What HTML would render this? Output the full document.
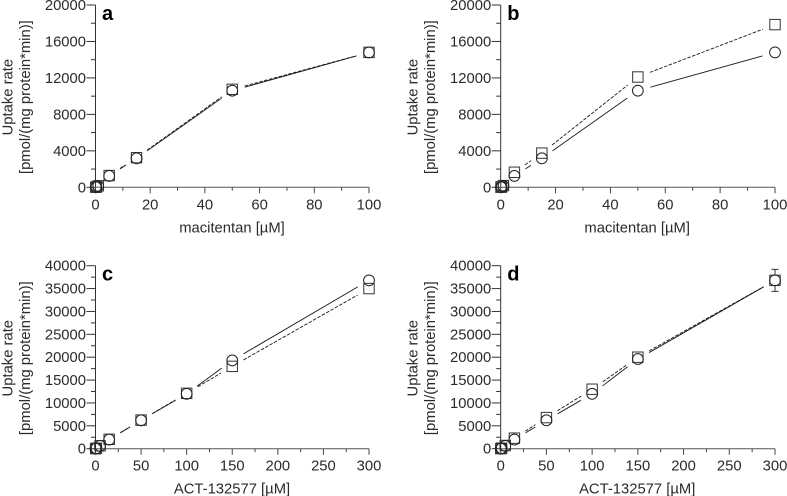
<!DOCTYPE html>
<html lang="en">
<head>
<meta charset="utf-8">
<title>Uptake rate panels</title>
<style>
html,body{margin:0;padding:0;background:#fff;width:787px;height:496px;overflow:hidden}
svg{display:block;filter:blur(.35px)}
text{font-family:"Liberation Sans",sans-serif;fill:#2b2b2b}
</style>
</head>
<body>
<svg id="chart" width="787" height="496" viewBox="0 0 787 496" xmlns="http://www.w3.org/2000/svg"></svg>
<script>
const concMacitentan = [0.1, 0.3, 1, 5, 15, 50, 100];
const concAct = [0.1, 1, 5, 15, 50, 100, 150, 300];

const aCircle = [10, 40, 150, 1250, 3180, 10600, 14800];
const aSquare = [10, 40, 160, 1290, 3250, 10750, 14800];
const bCircle = [10, 40, 150, 1250, 3180, 10600, 14800];
const bSquare = [10, 50, 190, 1650, 3750, 12100, 17850];
const cCircle = [10, 100, 620, 2000, 6200, 12000, 19300, 36800];
const cSquare = [10, 100, 640, 2050, 6250, 12100, 18000, 35000];
const dCircle = [10, 100, 620, 2000, 6200, 12000, 19600, 36800];
const dSquare = [10, 110, 700, 2300, 6800, 13000, 20000, 36800];
const dError = [0, 0, 0, 0, 0, 0, 0, 2400];

const xTicksMacitentan = [0, 20, 40, 60, 80, 100];
const xTicksAct = [0, 50, 100, 150, 200, 250, 300];
const yTicksLow = [0, 4000, 8000, 12000, 16000, 20000];
const yTicksHigh = [0, 5000, 10000, 15000, 20000, 25000, 30000, 35000, 40000];

const panelA = {letter:'a', title:'macitentan [\u00b5M]', xs:concMacitentan, circle:aCircle, square:aSquare, err:null, xTicks:xTicksMacitentan, yTicks:yTicksLow, left:95.5, right:369, top:5, bottom:187.3};
const panelB = {letter:'b', title:'macitentan [\u00b5M]', xs:concMacitentan, circle:bCircle, square:bSquare, err:null, xTicks:xTicksMacitentan, yTicks:yTicksLow, left:500.7, right:775, top:5, bottom:187.3};
const panelC = {letter:'c', title:'ACT-132577 [\u00b5M]', xs:concAct, circle:cCircle, square:cSquare, err:null, xTicks:xTicksAct, yTicks:yTicksHigh, left:95.5, right:369, top:265.7, bottom:448.7};
const panelD = {letter:'d', title:'ACT-132577 [\u00b5M]', xs:concAct, circle:dCircle, square:dSquare, err:dError, xTicks:xTicksAct, yTicks:yTicksHigh, left:500.7, right:775, top:265.7, bottom:448.7};

const NS = 'http://www.w3.org/2000/svg';
const root = document.getElementById('chart');
const GAP = 13;

function make(tag, attrs, parent, txt) {
  const node = document.createElementNS(NS, tag);
  for (const k in attrs) node.setAttribute(k, attrs[k]);
  if (txt !== undefined) node.textContent = txt;
  parent.appendChild(node);
  return node;
}

function drawSeries(g, p, sx, sy, values, dash) {
  for (let i = 0; i + 1 < p.xs.length; i++) {
    const x1 = sx(p.xs[i]), y1 = sy(values[i]), x2 = sx(p.xs[i + 1]), y2 = sy(values[i + 1]);
    const d = Math.hypot(x2 - x1, y2 - y1);
    if (d <= GAP * 2) continue;
    const ux = (x2 - x1) / d, uy = (y2 - y1) / d;
    const el = make('line', {x1: x1 + ux * GAP, y1: y1 + uy * GAP, x2: x2 - ux * GAP, y2: y2 - uy * GAP, stroke: '#1a1a1a', 'stroke-width': 0.9, 'stroke-dasharray': dash}, g);
    
    
  }
}

function drawPanel(p) {
  const g = make('g', {}, root);
  
  

  const xMax = p.xTicks[p.xTicks.length - 1], yMax = p.yTicks[p.yTicks.length - 1];
  const sx = v => p.left + (p.right - p.left) * v / xMax;
  const sy = v => p.bottom - (p.bottom - p.top) * v / yMax;

  const yAxis = make('line', {x1: p.left, y1: p.top, x2: p.left, y2: p.bottom, stroke: '#333', 'stroke-width': 1}, g);
  
  
  const xAxis = make('line', {x1: p.left, y1: p.bottom, x2: p.right, y2: p.bottom, stroke: '#555', 'stroke-width': 1}, g);
  
  

  p.yTicks.forEach((t, i) => {
    const y = sy(t);
    const tick = make('line', {x1: p.left - 9, y1: y, x2: p.left, y2: y, stroke: '#333', 'stroke-width': 1}, g);
    
    
    const label = make('text', {x: p.left - 9.5, y: y + 5, 'text-anchor': 'end', 'font-size': 14.8}, g, String(t));
    
    
    if (i + 1 < p.yTicks.length) {
      const my = sy((t + p.yTicks[i + 1]) / 2);
      const minor = make('line', {x1: p.left - 4.5, y1: my, x2: p.left, y2: my, stroke: '#333', 'stroke-width': 1}, g);
      
      
    }
  });

  p.xTicks.forEach((t, i) => {
    const x = sx(t);
    const tick = make('line', {x1: x, y1: p.bottom, x2: x, y2: p.bottom + 6, stroke: '#444', 'stroke-width': 1}, g);
    
    
    const label = make('text', {x: x, y: p.bottom + 22, 'text-anchor': 'middle', 'font-size': 14.8}, g, String(t));
    
    
    if (i + 1 < p.xTicks.length) {
      const mx = sx((t + p.xTicks[i + 1]) / 2);
      const minor = make('line', {x1: mx, y1: p.bottom, x2: mx, y2: p.bottom + 3.5, stroke: '#444', 'stroke-width': 1}, g);
      
      
    }
  });

  const xTitle = make('text', {x: p.left + 136.5, y: p.bottom + 45, 'text-anchor': 'middle', 'font-size': 14.8}, g, p.title);
  
  

  const cy = (p.top + p.bottom) / 2 + 1;
  const yTitle1 = make('text', {transform: 'translate(' + (p.left - 83) + ' ' + cy + ') rotate(-90)', 'text-anchor': 'middle', 'font-size': 14.8}, g, 'Uptake rate');
  
  
  const yTitle2 = make('text', {transform: 'translate(' + (p.left - 65.5) + ' ' + cy + ') rotate(-90)', 'text-anchor': 'middle', 'font-size': 14.8}, g, '[pmol/(mg protein*min)]');
  
  

  const letter = make('text', {x: p.left + 6.5, y: p.top + 15, 'font-size': 20, 'font-weight': 'bold'}, g, p.letter);
  letter.style.fill = '#000';
  
  

  drawSeries(g, p, sx, sy, p.circle, 'none');
  drawSeries(g, p, sx, sy, p.square, '3.5 1.5');

  p.xs.forEach((c, i) => {
    const x = sx(c);
    if (p.err && p.err[i] > 0) {
      const hi = sy(p.square[i] + p.err[i]), lo = sy(p.square[i] - p.err[i]);
      const bar = make('path', {d: 'M' + (x - 3.5) + ' ' + hi + 'H' + (x + 3.5) + 'M' + x + ' ' + hi + 'V' + lo + 'M' + (x - 3.5) + ' ' + lo + 'H' + (x + 3.5), fill: 'none', stroke: '#333', 'stroke-width': 1}, g);
      
      
      const mask = make('rect', {x: x - 5, y: sy(p.square[i]) - 5, width: 10, height: 10, fill: '#fff'}, g);
      
      
    }
    const sq = make('rect', {x: x - 5.2, y: sy(p.square[i]) - 5.2, width: 10.4, height: 10.4, fill: 'none', stroke: '#333', 'stroke-width': 1}, g);
    
    
    const ci = make('circle', {cx: x, cy: sy(p.circle[i]), r: 5.4, fill: 'none', stroke: '#222', 'stroke-width': 1}, g);
    
    
  });
}

[panelA, panelB, panelC, panelD].forEach(drawPanel);
</script>
</body>
</html>
